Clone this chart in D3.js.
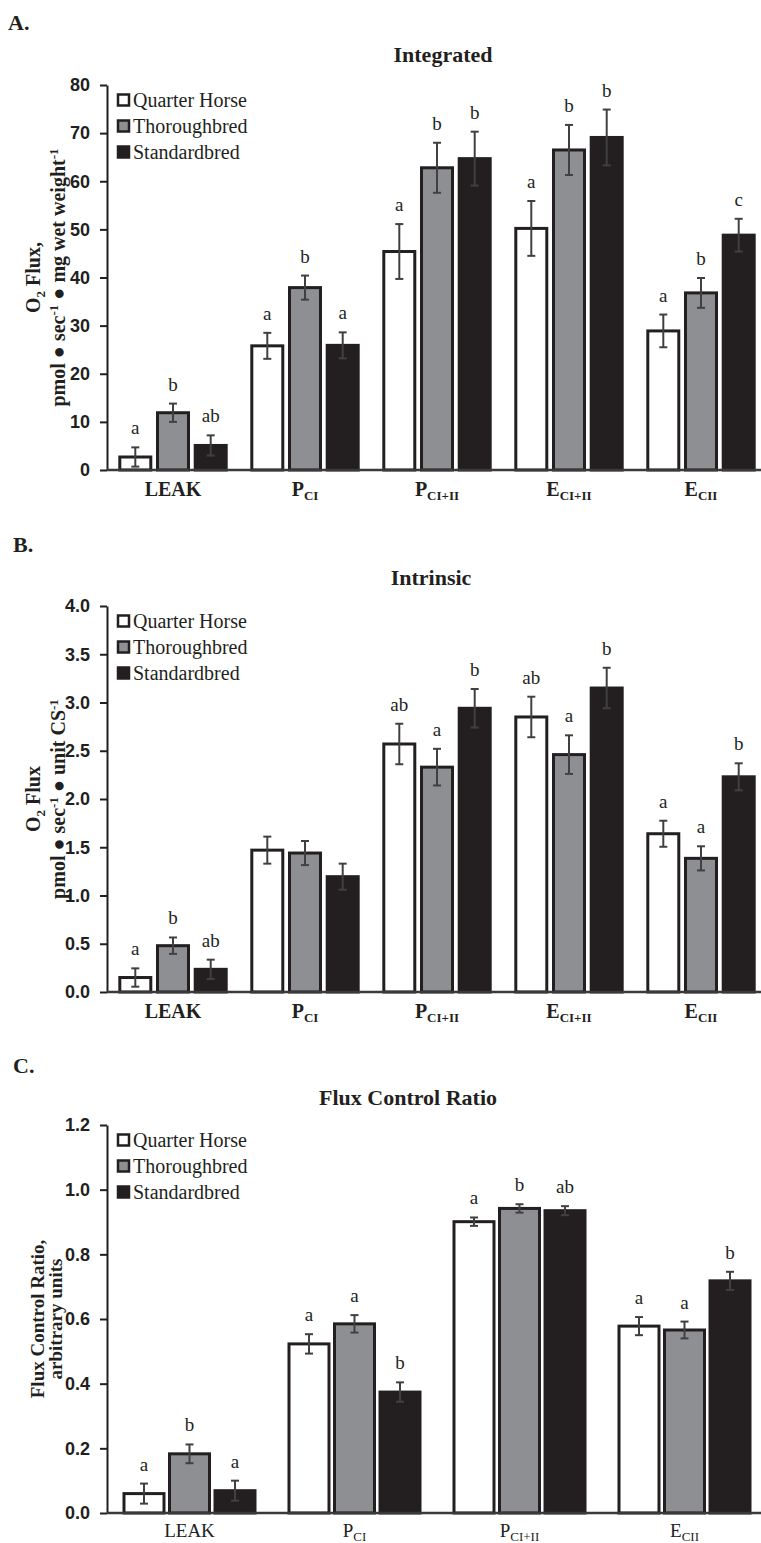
<!DOCTYPE html>
<html>
<head>
<meta charset="utf-8">
<script src="https://cdn.jsdelivr.net/npm/d3@7"></script>
<style>
  body { margin: 0; background: #fff; }
  svg { display: block; font-family: "Liberation Serif", "Times New Roman", serif; }
  .tick text { font-weight: bold; font-size: 18px; fill: #231f20; }
</style>
</head>
<body>
<div id="chart"></div>
<script>
// series and categories
const seriesNames = ["Quarter Horse", "Thoroughbred", "Standardbred"];
const catsAB = ["LEAK", "P_CI", "P_CI+II", "E_CI+II", "E_CII"];
const catsC = ["LEAK", "P_CI", "P_CI+II", "E_CII"];

// A. Integrated
const intQH = [2.7, 25.8, 45.4, 50.2, 28.9];
const intTB = [11.9, 37.9, 62.8, 66.5, 36.8];
const intSB = [5.1, 25.9, 64.7, 69.1, 48.8];
const intQHse = [2.0, 2.7, 5.7, 5.7, 3.4];
const intTBse = [1.9, 2.5, 5.2, 5.2, 3.1];
const intSBse = [2.1, 2.7, 5.6, 5.8, 3.4];
const intQHsig = ["a", "a", "a", "a", "a"];
const intTBsig = ["b", "b", "b", "b", "b"];
const intSBsig = ["ab", "a", "b", "b", "c"];
const ticksA = [0, 10, 20, 30, 40, 50, 60, 70, 80];

// B. Intrinsic
const intrQH = [0.15, 1.47, 2.57, 2.85, 1.64];
const intrTB = [0.48, 1.44, 2.33, 2.46, 1.385];
const intrSB = [0.235, 1.195, 2.94, 3.15, 2.23];
const intrQHse = [0.095, 0.14, 0.21, 0.21, 0.135];
const intrTBse = [0.085, 0.125, 0.19, 0.2, 0.125];
const intrSBse = [0.1, 0.135, 0.2, 0.21, 0.14];
const intrQHsig = ["a", "", "ab", "ab", "a"];
const intrTBsig = ["b", "", "a", "a", "a"];
const intrSBsig = ["ab", "", "b", "b", "b"];
const ticksB = [0, 0.5, 1.0, 1.5, 2.0, 2.5, 3.0, 3.5, 4.0];

// C. Flux Control Ratio
const fcrQH = [0.06, 0.523, 0.901, 0.578];
const fcrTB = [0.183, 0.585, 0.942, 0.566];
const fcrSB = [0.069, 0.374, 0.935, 0.718];
const fcrQHse = [0.031, 0.03, 0.013, 0.028];
const fcrTBse = [0.029, 0.027, 0.013, 0.026];
const fcrSBse = [0.031, 0.03, 0.014, 0.028];
const fcrQHsig = ["a", "a", "a", "a"];
const fcrTBsig = ["b", "a", "b", "a"];
const fcrSBsig = ["a", "b", "ab", "b"];
const ticksC = [0, 0.2, 0.4, 0.6, 0.8, 1.0, 1.2];

const fills = ["#ffffff", "#8e8f92", "#231f20"];
const dark = "#231f20";

const width = 761, height = 1543;
const svg = d3.select("#chart").append("svg")
    .attr("width", width)
    .attr("height", height);

function drawPanel(opt) {
    const g = svg.append("g");
    const y = d3.scaleLinear().domain([0, opt.max]).range([opt.bottom, opt.top]);
    const x0 = d3.scaleBand().domain(opt.cats).range([107, 767])
        .paddingInner(opt.padGroup).paddingOuter(opt.padGroup / 2);
    const x1 = d3.scaleBand().domain(seriesNames).range([0, x0.bandwidth()])
        .paddingInner(opt.padBar);

    // panel letter and title
    g.append("text").attr("x", opt.letterX).attr("y", opt.letterY)
        .attr("font-weight", "bold").attr("font-size", 22).attr("fill", dark)
        .text(opt.letter);
    g.append("text").attr("x", opt.titleX).attr("y", opt.titleY)
        .attr("text-anchor", "middle")
        .attr("font-weight", "bold").attr("font-size", 22).attr("fill", dark)
        .text(opt.title);

    // rows of data: one per series
    const rows = seriesNames.map((s, si) => opt.cats.map((c, ci) => ({
        cat: c, series: s, si: si,
        v: opt.means[si][ci], se: opt.ses[si][ci], sig: opt.sigs[si][ci]
    }))).flat();

    g.selectAll(".bar").data(rows).enter().append("rect")
        .attr("class", "bar")
        .attr("x", d => x0(d.cat) + x1(d.series))
        .attr("y", d => y(d.v))
        .attr("width", x1.bandwidth())
        .attr("height", d => y(0) - y(d.v))
        .attr("fill", d => fills[d.si])
        .attr("stroke", dark)
        .attr("stroke-width", 3);

    // error bars
    const eb = g.selectAll(".err").data(rows).enter().append("g")
        .attr("class", "err")
        .attr("stroke", "#404040").attr("stroke-width", 2);
    const cx = d => x0(d.cat) + x1(d.series) + x1.bandwidth() / 2;
    eb.append("line")
        .attr("x1", cx).attr("x2", cx)
        .attr("y1", d => y(d.v + d.se)).attr("y2", d => y(d.v - d.se));
    eb.append("line")
        .attr("x1", d => cx(d) - 4).attr("x2", d => cx(d) + 4)
        .attr("y1", d => y(d.v + d.se)).attr("y2", d => y(d.v + d.se));
    eb.append("line")
        .attr("x1", d => cx(d) - 4).attr("x2", d => cx(d) + 4)
        .attr("y1", d => y(d.v - d.se)).attr("y2", d => y(d.v - d.se));

    // significance letters
    g.selectAll(".sig").data(rows.filter(d => d.sig)).enter().append("text")
        .attr("x", cx)
        .attr("y", d => y(d.v + d.se) - 13)
        .attr("text-anchor", "middle")
        .attr("font-size", 19).attr("fill", dark)
        .text(d => d.sig);

    // y axis
    const yAxis = d3.axisLeft(y).tickValues(opt.ticks)
        .tickSize(7).tickSizeOuter(0).tickPadding(10)
        .tickFormat(opt.fmt);
    const ya = g.append("g").attr("transform", "translate(107,0)").call(yAxis);
    ya.select(".domain").attr("stroke", dark).attr("stroke-width", 2);
    ya.selectAll(".tick line").attr("stroke", dark).attr("stroke-width", 2);

    // x axis line
    g.append("line").attr("x1", 107).attr("x2", 767)
        .attr("y1", y(0)).attr("y2", y(0))
        .attr("stroke", "#3a3a3a").attr("stroke-width", 2.5);

    // category labels with subscripts
    const lab = g.selectAll(".xlab").data(opt.cats).enter().append("text")
        .attr("class", "xlab")
        .attr("x", d => x0(d) + x0.bandwidth() / 2)
        .attr("y", y(0) + opt.labelGap)
        .attr("text-anchor", "middle")
        .attr("font-weight", opt.xBold ? "bold" : "normal")
        .attr("font-size", opt.xBold ? 20 : 19).attr("fill", dark);
    lab.each(function(d) {
        const parts = d.split("_");
        const t = d3.select(this);
        t.append("tspan").text(parts[0]);
        if (parts[1]) {
            t.append("tspan").attr("font-size", 13).attr("dy", 4).text(parts[1]);
        }
    });

    // legend
    const leg = g.selectAll(".leg").data(seriesNames).enter().append("g")
        .attr("class", "leg")
        .attr("transform", (d, i) => `translate(118, ${opt.top + 15 + i * 26})`);
    leg.append("rect").attr("x", 0).attr("y", -5.5)
        .attr("width", 11).attr("height", 11)
        .attr("fill", (d, i) => fills[i])
        .attr("stroke", dark).attr("stroke-width", 2.5);
    leg.append("text").attr("x", 15).attr("y", 7)
        .attr("font-size", 20).attr("fill", dark)
        .text(d => d);

    // y axis title
    const cy = (opt.top + opt.bottom) / 2;
    opt.yTitle.forEach((line, li) => {
        const t = g.append("text")
            .attr("transform", `translate(${opt.yTitleX[li]}, ${cy}) rotate(-90)`)
            .attr("text-anchor", "middle")
            .attr("font-weight", "bold").attr("font-size", opt.yTitleSize).attr("fill", dark);
        line.forEach(p => {
            const ts = t.append("tspan").text(p.t);
            if (p.sub) ts.attr("font-size", 13).attr("dy", 5);
            if (p.sup) ts.attr("font-size", 13).attr("dy", -7);
            if (p.back) ts.attr("dy", p.back);
        });
    });
}

drawPanel({
    letter: "A.", letterX: 8, letterY: 30,
    title: "Integrated", titleX: 443, titleY: 62,
    cats: catsAB, max: 80, top: 85, bottom: 470, ticks: ticksA,
    fmt: d3.format("d"), padGroup: 0.194, padBar: 0.178, xBold: true, labelGap: 26,
    means: [intQH, intTB, intSB], ses: [intQHse, intTBse, intSBse],
    sigs: [intQHsig, intTBsig, intSBsig],
    yTitleX: [40, 65], yTitleSize: 20,
    yTitle: [
        [{t: "O"}, {t: "2", sub: true}, {t: " Flux,", back: -5}],
        [{t: "pmol ● sec"}, {t: "-1", sup: true}, {t: " ● mg wet weight", back: 7}, {t: "-1", sup: true}]
    ]
});

drawPanel({
    letter: "B.", letterX: 13, letterY: 552,
    title: "Intrinsic", titleX: 431, titleY: 585,
    cats: catsAB, max: 4, top: 606, bottom: 992, ticks: ticksB,
    fmt: d3.format(".1f"), padGroup: 0.194, padBar: 0.178, xBold: true, labelGap: 26,
    means: [intrQH, intrTB, intrSB], ses: [intrQHse, intrTBse, intrSBse],
    sigs: [intrQHsig, intrTBsig, intrSBsig],
    yTitleX: [40, 65], yTitleSize: 20,
    yTitle: [
        [{t: "O"}, {t: "2", sub: true}, {t: " Flux", back: -5}],
        [{t: "pmol ● sec"}, {t: "-1", sup: true}, {t: " ● unit CS", back: 7}, {t: "-1", sup: true}]
    ]
});

drawPanel({
    letter: "C.", letterX: 13, letterY: 1073,
    title: "Flux Control Ratio", titleX: 408, titleY: 1105,
    cats: catsC, max: 1.2, top: 1125, bottom: 1513, ticks: ticksC,
    fmt: d3.format(".1f"), padGroup: 0.206, padBar: 0.121, xBold: false, labelGap: 24,
    means: [fcrQH, fcrTB, fcrSB], ses: [fcrQHse, fcrTBse, fcrSBse],
    sigs: [fcrQHsig, fcrTBsig, fcrSBsig],
    yTitleX: [44, 62], yTitleSize: 19,
    yTitle: [
        [{t: "Flux Control Ratio,"}],
        [{t: "arbitrary units"}]
    ]
});
</script>
</body>
</html>
